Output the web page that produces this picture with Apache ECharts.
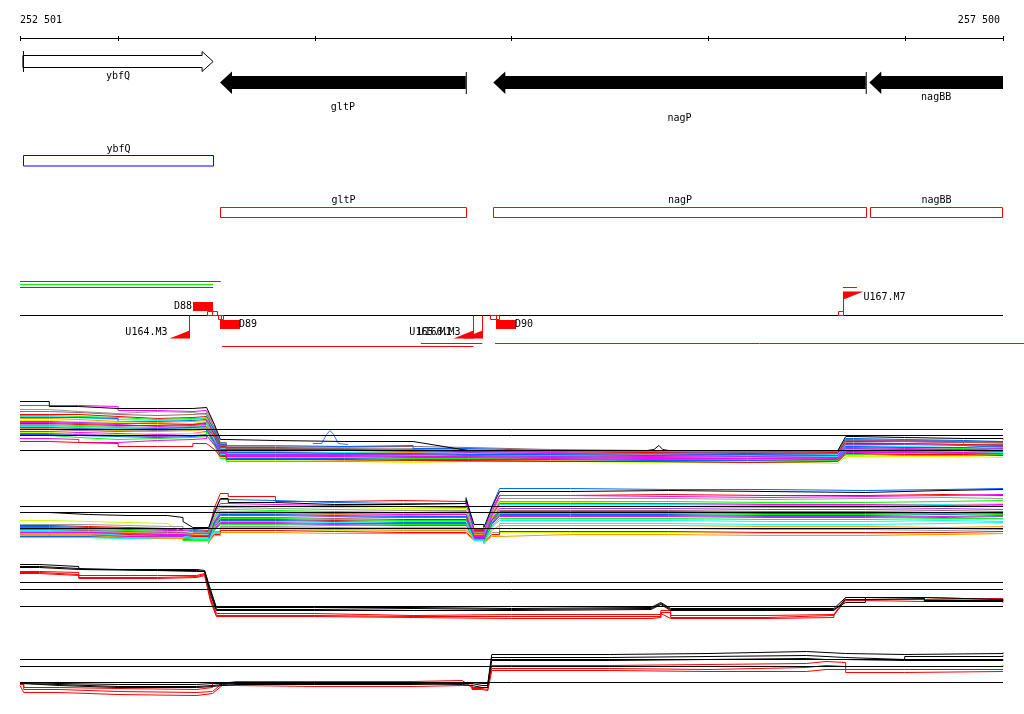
<!DOCTYPE html>
<html><head><meta charset="utf-8">
<script src="https://cdn.jsdelivr.net/npm/echarts@6/dist/echarts.min.js"></script>
<style>html,body{margin:0;padding:0;background:#fff}#c{width:1024px;height:714px}</style>
</head><body><div id="c"></div>
<script>
// ---------------- DATA ----------------
const X_MIN = 252501, X_MAX = 257500;
const rulerTicks = [252501, 253000, 254000, 255000, 256000, 257000, 257500];
const rulerLabels = ['252 501', '257 500'];

const geneNames = ['ybfQ', 'gltP', 'nagP', 'nagBB'];
const geneStart = [252516, 253518, 254908, 256820];
const geneEnd = [253483, 254768, 256802, 257500];
const geneStrand = [1, -1, -1, -1];

const annoNames = ['ybfQ', 'gltP', 'nagP', 'nagBB'];
const annoStart = [252516, 253518, 254908, 256822];
const annoEnd = [253483, 254768, 256802, 257495];
const annoColors = ['#0000ff', '#ff0000', '#ff0000', '#ff0000'];

const segStart = [252501, 252501, 252501, 256686, 253528, 254540, 254917];
const segEnd = [253522, 253483, 253483, 256757, 254806, 254852, 257607];
const segColors = ['#ff0000', '#00ff00', '#ff0000', '#ff0000', '#ff0000', '#ff0000', '#ff0000'];

const probeNames = ['D88', 'D89', 'D90'];
const probeStart = [253382, 253518, 254922];
const probeEnd = [253481, 253620, 255024];
const probeSide = [1, -1, -1];

const boxStart = [253453, 253479, 253509, 253522, 254891, 254922, 256663];
const boxEnd = [253479, 253501, 253522, 253532, 254922, 254937, 256686];
const boxSide = [1, 1, -1, -1, -1, -1, 1];

const promNames = ['U164.M3', 'U165.M1', 'U166.M3', 'U167.M7'];
const promPos = [253359, 254806, 254852, 256686];
const promStrand = [-1, -1, -1, 1];

// panel 1 profiles
const p1X = [252501, 252650, 252800, 253000, 253200, 253380, 253450, 253490, 253520, 253550, 253800, 254150, 254500, 254780, 255200, 255700, 256200, 256660, 256700, 256740, 257000, 257300, 257500];
const p1Values = [
  [13.6,12.6,12.2,12.2,12.2,12.4,12.8,9.0,6.0,5.8,5.6,5.6,5.4,3.8,3.8,3.8,3.8,4.0,6.6,6.4,6.2,6.2,6.0],
  [12.8,12.8,12.6,11.8,11.6,11.8,12.2,8.8,5.0,4.2,4.0,3.8,3.6,3.4,3.2,3.4,3.0,3.2,5.8,5.8,5.6,5.4,5.4],
  [12.0,11.6,11.2,11.6,11.4,11.0,11.8,8.4,5.2,4.6,4.4,4.2,4.0,3.6,3.4,3.6,3.4,3.6,5.4,5.2,5.0,5.2,5.2],
  [11.6,11.4,11.0,10.8,11.0,11.2,11.4,8.2,5.4,4.8,4.6,4.6,4.4,4.0,3.8,3.6,3.6,3.8,6.0,5.8,5.6,5.0,5.0],
  [11.0,11.0,10.6,10.2,10.4,10.6,11.0,7.6,4.4,3.4,3.2,3.0,3.2,3.2,3.0,2.8,2.8,3.0,5.2,5.2,5.0,4.8,4.8],
  [10.8,10.6,10.4,10.0,10.2,10.2,10.8,7.4,4.0,3.0,3.0,3.2,2.8,2.6,2.4,2.2,2.4,2.6,4.6,4.4,4.2,4.4,4.4],
  [10.6,10.4,10.0,9.8,10.0,10.4,10.6,7.2,4.2,3.6,3.4,3.4,3.2,3.0,2.8,3.2,3.0,3.2,4.8,4.6,4.4,4.6,4.6],
  [10.4,10.4,10.2,9.6,9.8,10.0,10.6,7.8,5.0,4.4,4.6,4.8,4.2,3.8,3.4,3.4,3.6,3.8,6.2,6.0,5.8,5.6,5.6],
  [10.2,10.0,9.6,9.4,9.6,9.8,10.4,7.0,4.0,3.2,3.2,3.4,3.0,2.8,2.6,2.8,2.6,2.8,4.0,4.0,3.8,4.2,4.2],
  [9.8,9.6,9.4,9.0,9.2,9.6,10.2,6.6,3.0,2.2,2.2,2.4,2.2,2.0,1.8,1.6,2.0,2.2,3.2,3.0,3.0,2.8,2.8],
  [9.6,9.4,9.2,9.2,9.0,9.4,10.0,7.2,4.4,3.8,3.8,3.6,3.4,3.2,3.0,3.0,3.2,3.4,5.0,5.0,4.8,4.6,4.6],
  [9.4,9.2,9.0,8.6,8.8,9.0,9.8,6.8,3.6,2.8,2.8,2.6,2.6,2.4,2.6,2.4,2.2,2.4,4.4,4.2,4.0,3.8,3.8],
  [9.2,9.0,8.8,8.8,9.0,9.2,9.6,7.0,4.6,4.0,4.0,3.8,3.6,3.6,3.4,3.2,3.4,3.6,5.6,5.6,5.4,5.6,5.6],
  [9.0,8.8,8.6,8.4,8.6,8.8,9.6,6.4,3.6,3.0,2.8,2.8,3.0,2.8,3.0,2.6,2.8,3.0,4.2,4.4,4.4,4.0,4.0],
  [8.8,8.6,8.4,8.2,8.4,8.6,9.4,6.2,3.2,2.6,2.4,2.2,2.2,2.2,2.0,2.0,1.8,2.0,3.6,3.4,3.4,3.6,3.6],
  [8.6,8.4,8.2,8.0,8.2,8.4,9.2,6.0,3.0,2.4,2.4,2.6,2.6,2.4,2.2,2.4,2.6,2.8,3.8,3.6,3.6,3.4,3.4],
  [8.4,8.2,8.0,8.2,8.4,8.6,9.0,6.4,4.0,3.4,3.2,3.2,3.0,3.0,2.8,3.0,2.8,3.0,4.6,4.4,4.4,4.8,4.8],
  [8.2,8.0,7.8,7.6,7.8,8.0,8.8,5.6,2.6,2.0,1.8,1.8,1.8,1.8,1.6,1.8,1.6,1.8,3.0,3.2,3.2,3.0,3.0],
  [8.0,7.8,7.6,7.8,8.0,8.2,8.6,6.6,4.8,4.2,4.2,4.0,3.8,3.6,3.6,3.4,3.6,3.8,5.8,5.6,5.4,5.4,5.4],
  [7.6,7.4,7.2,7.0,7.2,7.6,8.4,5.4,3.2,2.6,2.6,2.4,2.4,2.2,2.0,2.2,2.0,2.2,3.4,3.4,3.2,3.2,3.2],
  [7.4,7.2,7.0,7.2,7.2,7.4,8.2,5.0,2.4,1.8,1.6,1.4,1.6,1.6,1.4,1.6,1.2,1.4,2.6,2.6,2.6,2.4,2.4],
  [7.2,7.0,6.8,6.6,6.8,7.0,8.0,5.6,3.6,3.0,3.0,3.0,2.8,2.6,2.4,2.6,2.4,2.6,4.2,4.0,4.0,4.2,4.2],
  [7.0,6.8,6.6,6.4,6.6,6.8,7.8,5.2,2.8,2.2,2.2,2.0,2.0,2.0,1.8,1.8,2.0,2.2,3.6,3.8,3.8,3.6,3.6],
  [6.8,6.4,6.0,6.2,6.4,6.6,7.6,4.8,2.2,1.6,1.6,1.8,1.6,1.6,1.6,1.4,1.6,1.8,3.0,2.8,2.8,3.0,3.0],
  [6.2,6.0,5.4,5.8,6.0,6.2,6.8,4.8,3.4,2.8,2.8,2.6,2.6,2.4,2.2,2.2,2.4,2.6,3.8,3.6,3.4,3.6,3.6],
  [5.6,5.4,5.2,4.6,4.6,5.2,5.6,4.0,2.6,2.0,2.0,1.8,1.8,1.6,1.6,1.4,1.6,1.8,3.2,3.0,3.0,2.8,2.8]
];
const p1BumpAX = [253990, 254035, 254060, 254078, 254096, 254120, 254170];
const p1BumpAY = [5.2, 5.2, 7.0, 7.8, 7.0, 5.2, 5.0];
const p1BumpBX = [255690, 255725, 255750, 255770, 255800];
const p1BumpBY = [3.8, 4.0, 4.8, 4.0, 3.8];
const p1Refs = [8.0, 6.8, 3.8];

// panel 2 profiles
const p2X = [252501, 252650, 252850, 253050, 253250, 253330, 253380, 253460, 253490, 253520, 253560, 253800, 254100, 254450, 254770, 254810, 254860, 254900, 254940, 255300, 255800, 256300, 256800, 257200, 257500];
const p2Values = [
  [7.0,6.6,6.4,6.4,6.0,5.2,4.0,4.0,7.0,9.8,9.0,8.6,8.6,8.8,9.6,4.6,4.0,8.0,11.2,11.4,11.2,11.0,11.4,11.6,11.6],
  [4.4,4.2,4.0,3.8,3.8,3.6,3.4,3.2,8.0,10.8,10.2,9.2,9.4,9.2,10.0,3.4,2.8,7.0,10.4,10.6,10.4,10.4,10.6,10.4,10.4],
  [4.2,4.0,3.8,3.6,3.6,3.4,3.2,3.0,7.4,9.6,9.4,9.0,8.8,8.8,9.8,3.6,3.0,8.2,11.8,11.6,11.6,11.4,11.6,11.8,11.8],
  [5.4,5.2,5.0,4.8,4.6,3.0,1.6,1.6,6.0,8.4,8.2,8.0,7.8,7.8,8.2,2.8,2.2,6.4,9.0,8.8,8.8,8.6,8.6,8.8,8.8],
  [4.0,3.8,3.6,3.4,3.4,3.2,3.0,2.8,6.8,8.8,8.6,8.4,8.2,8.0,8.8,3.2,2.6,7.6,10.4,10.2,10.0,10.2,10.4,10.6,10.6],
  [4.6,4.6,4.4,4.2,4.2,3.6,3.0,2.6,6.2,8.0,7.8,7.6,7.4,7.4,7.6,3.0,2.4,7.0,9.8,9.8,9.6,9.8,10.0,9.8,9.8],
  [3.6,3.6,3.4,3.2,3.0,2.8,2.8,2.4,5.8,7.6,7.4,7.2,7.0,7.2,7.4,2.6,2.0,6.6,9.2,9.2,9.0,9.0,9.2,9.4,9.4],
  [3.4,3.4,3.2,3.0,2.8,2.8,2.6,2.2,5.4,7.2,7.2,7.0,6.8,6.8,7.0,2.4,1.8,6.2,8.6,8.6,8.4,8.4,8.6,8.2,8.2],
  [3.2,3.2,3.0,2.8,2.8,2.6,2.4,2.0,5.2,6.8,6.8,6.6,6.4,6.6,6.8,2.6,2.0,6.0,8.2,8.2,8.0,8.0,8.2,8.4,8.4],
  [3.0,3.0,2.8,2.6,2.6,2.4,2.4,2.2,4.8,6.4,6.4,6.2,6.0,6.2,6.4,2.2,1.6,5.6,7.8,7.8,7.6,7.6,7.8,7.6,7.6],
  [3.6,3.4,3.2,3.0,3.0,2.8,2.8,2.6,4.6,6.0,6.0,5.8,6.0,6.0,6.2,2.8,2.2,5.4,7.4,7.4,7.2,7.2,7.4,7.2,7.2],
  [2.8,2.8,2.6,2.4,2.4,2.2,2.2,1.8,4.2,5.6,5.6,5.4,5.6,5.6,5.8,2.0,1.4,5.0,7.0,7.0,6.8,6.8,7.0,7.0,7.0],
  [2.6,2.6,2.4,2.2,2.2,2.0,2.0,1.8,4.0,5.4,5.4,5.2,5.0,5.0,5.4,2.2,1.6,4.8,6.6,6.6,6.4,6.4,6.6,6.8,6.8],
  [3.0,3.0,2.8,2.6,2.6,2.4,2.4,2.0,3.8,5.0,5.0,4.8,4.8,4.8,5.0,2.4,1.8,4.6,6.2,6.2,6.0,6.0,6.2,6.4,6.4],
  [2.4,2.4,2.2,2.0,2.0,1.8,1.8,1.4,3.4,4.6,4.6,4.4,4.6,4.6,4.8,1.8,1.2,4.2,5.8,5.8,5.6,5.6,5.8,5.8,5.8],
  [2.4,2.2,2.4,2.2,2.2,2.0,2.0,1.6,3.2,4.2,4.2,4.0,3.8,3.8,4.0,2.0,1.4,3.0,3.8,3.8,3.6,3.6,3.4,3.6,3.6],
  [2.8,2.8,2.4,2.2,2.2,2.0,2.0,1.8,3.0,4.0,4.0,3.8,4.0,4.0,4.2,2.2,1.6,4.0,5.4,5.4,5.2,5.2,5.4,5.2,5.2],
  [2.2,2.0,2.2,2.0,2.0,1.6,1.4,1.2,2.8,3.6,3.6,3.4,3.6,3.6,3.8,1.6,1.0,2.4,3.0,3.0,2.8,2.8,2.6,2.8,2.8],
  [2.6,2.6,2.2,2.0,2.0,1.8,1.8,1.6,2.8,3.8,3.8,3.6,3.4,3.4,3.6,1.8,1.2,3.4,4.4,4.4,4.2,4.2,4.0,4.2,4.2],
  [2.2,2.2,2.0,2.2,2.2,1.6,1.6,1.4,3.6,4.8,4.8,4.6,4.4,4.4,4.6,1.8,1.2,4.6,6.4,6.4,6.2,6.2,6.0,6.2,6.2],
  [2.4,2.4,2.2,2.0,2.0,1.8,1.8,1.2,2.6,3.4,3.4,3.2,3.0,3.0,3.2,1.6,1.0,2.6,3.2,3.2,3.0,3.0,3.0,3.2,3.2],
  [2.0,2.0,2.2,2.4,2.4,1.6,1.6,1.4,5.2,7.0,7.0,6.8,6.6,6.6,6.8,2.2,1.6,6.4,8.8,8.8,8.6,8.6,8.4,8.6,8.6],
  [2.2,2.2,2.0,1.8,1.8,1.6,1.6,1.2,5.0,6.6,6.6,6.4,6.2,6.2,6.4,2.0,1.4,5.4,7.2,7.2,7.0,7.0,6.8,7.0,7.0],
  [2.0,2.0,1.8,2.0,2.0,1.4,1.4,0.8,4.4,5.8,5.8,5.6,5.4,5.4,5.6,1.6,1.0,5.0,6.8,6.8,6.6,6.6,6.8,6.6,6.6],
  [2.4,2.4,2.0,1.8,1.8,1.6,1.6,1.0,2.4,3.0,3.0,2.8,2.8,2.8,3.0,1.4,0.8,2.2,2.6,2.6,2.4,2.4,2.6,2.8,2.8],
  [2.0,2.0,1.8,2.0,2.0,1.8,1.8,1.2,4.0,5.2,5.2,5.0,5.2,5.2,5.4,1.4,0.8,3.8,4.8,4.8,4.6,4.6,4.8,5.0,5.0]
];
const p2Refs = [8.2, 7.0, 3.8];

// panel 3 profiles
const p3X = [252501, 252600, 252800, 253200, 253400, 253440, 253470, 253500, 254000, 254500, 255000, 255710, 255760, 255810, 256300, 256640, 256700, 256800, 257100, 257500];
const p3Values = [
  [12.0,11.6,11.0,11.0,10.8,10.6,7.0,3.4,3.4,3.2,3.4,3.2,4.4,3.2,3.2,3.4,5.4,5.4,5.0,4.8],
  [11.6,11.2,10.8,10.6,10.6,10.2,6.0,2.8,2.8,2.8,3.0,2.8,4.0,2.8,2.8,3.0,5.0,5.2,4.6,4.4],
  [11.4,11.0,10.8,10.8,10.6,10.4,6.6,3.0,3.2,3.0,3.2,3.0,4.2,3.0,3.0,3.2,4.4,5.4,4.8,5.0],
  [10.6,10.4,9.8,9.8,10.2,10.0,5.4,2.2,1.8,2.0,2.0,2.0,2.8,1.8,2.0,2.2,5.4,5.4,5.0,5.0],
  [10.4,10.0,9.4,9.6,10.0,9.6,5.0,1.8,1.6,1.6,1.6,1.6,2.4,1.4,1.8,2.2,5.0,5.0,5.2,5.2],
  [10.2,9.8,9.2,9.4,9.8,9.4,4.6,1.6,1.4,1.2,1.2,1.4,2.2,1.2,1.4,2.0,4.8,4.6,4.8,4.8]
];
const p3Refs = [8.4, 7.0, 3.6];

// panel 4 profiles
const p4X = [252501, 252520, 252700, 253000, 253400, 253480, 253530, 253600, 254000, 254500, 254750, 254800, 254850, 254880, 254900, 255500, 256000, 256500, 256600, 256700, 257000, 257500];
const p4Values = [
  [3.4,3.2,3.0,3.0,3.2,3.2,3.4,3.4,3.4,3.4,3.4,3.2,3.2,3.4,9.0,9.2,9.6,9.4,9.2,9.0,9.2,9.4],
  [3.2,3.0,2.6,2.6,2.8,3.0,3.2,3.2,3.2,3.0,2.8,2.4,2.4,3.0,8.4,8.6,8.8,8.6,8.4,8.0,8.6,8.8],
  [3.2,2.8,2.4,2.4,2.6,2.8,3.0,3.0,3.0,3.2,3.2,2.8,2.8,3.2,7.8,8.0,8.2,8.0,8.0,7.8,7.8,8.0],
  [3.2,2.4,2.2,2.0,2.4,3.2,3.6,3.6,3.6,3.8,3.6,2.4,2.4,2.8,6.8,7.0,7.2,7.6,7.4,6.6,6.6,6.8],
  [3.0,2.0,1.6,1.4,1.6,2.0,3.2,3.0,3.2,3.2,3.2,2.2,2.0,2.4,6.2,6.0,6.4,6.8,6.6,6.0,6.0,6.0],
  [2.8,1.4,1.0,0.8,1.2,1.6,2.8,2.6,2.6,2.8,2.8,2.0,1.8,2.0,5.8,5.6,5.6,6.0,6.0,5.4,5.6,5.6]
];
const p4Refs = [8.0, 6.6, 3.4];

const K = '#000000', M = '#ff00ff', R = '#ff0000', L = '#00ff00', C = '#00ffff', B = '#0066ff',
      O = '#ff9900', G = '#999999', Br = '#996666', Y = '#ccff00', P = '#9933ff';
const p1Colors = [K, M, G, Br, R, L, C, B, O, Y, P, M, R, G, L, C, B, O, Br, M, Y, P, B, L, M, R];
const p2Colors = [K, R, B, Y, M, G, L, C, O, P, Br, R, B, M, L, G, C, Y, O, P, R, M, B, L, O, C];
const p34Colors = [K, K, K, R, R, R];

// ---------------- LAYOUT ----------------
const FONT = '10px "DejaVu Sans Mono", monospace';
const geneLabelY = [76, 107, 118, 97];
const annoLabelY = [149, 200, 200, 200];
const annoBoxY = [[155.5, 166], [207.5, 217.5], [207.5, 217.5], [207.5, 217.5]];
const segY = [281.5, 284.5, 287.5, 287.5, 346.5, 343.5, 343.5];
const BASE_Y = 315.5;
const STEP_LIMIT = 1.0; // small changes drawn as steps, larger ones as slopes

function xy(api, x, y) { return api.coord([x, y]); }

function toPath(X, v) {
  const pts = [];
  for (let j = 0; j < X.length; j++) {
    pts.push([X[j], v[j]]);
    if (j < X.length - 1 && Math.abs(v[j + 1] - v[j]) <= STEP_LIMIT && v[j + 1] !== v[j]) {
      pts.push([X[j + 1], v[j]]);
    }
  }
  return pts;
}

const series = [];
const ov = { xAxisIndex: 0, yAxisIndex: 0, silent: true, animation: false };

series.push(Object.assign({}, ov, {
  type: 'custom', clip: false, data: [[X_MIN, X_MAX]],
  renderItem(p, api) {
    const a = xy(api, api.value(0), 38.5), b = xy(api, api.value(1), 38.5);
    return { type: 'group', children: [
      { type: 'line', shape: { x1: a[0], y1: a[1], x2: b[0], y2: b[1] }, style: { stroke: '#000', lineWidth: 1 } },
      { type: 'text', x: a[0], y: xy(api, X_MIN, 20)[1], style: { text: rulerLabels[0], font: FONT, fill: '#000', align: 'left', verticalAlign: 'middle' } },
      { type: 'text', x: b[0] - 3, y: xy(api, X_MIN, 20)[1], style: { text: rulerLabels[1], font: FONT, fill: '#000', align: 'right', verticalAlign: 'middle' } }
    ]};
  }
}));
series.push(Object.assign({}, ov, {
  type: 'custom', clip: false, data: rulerTicks.map(t => [t]),
  renderItem(p, api) {
    const a = xy(api, api.value(0), 36), b = xy(api, api.value(0), 41);
    const x = Math.round(a[0]) + 0.5;
    return { type: 'line', shape: { x1: x, y1: a[1], x2: x, y2: b[1] }, style: { stroke: '#000', lineWidth: 1 } };
  }
}));

series.push(Object.assign({}, ov, {
  type: 'custom', clip: true,
  data: geneNames.map((n, i) => [geneStart[i], geneEnd[i], geneStrand[i], i]),
  renderItem(p, api) {
    const s = xy(api, api.value(0), 0)[0], e = xy(api, api.value(1), 0)[0];
    const st = api.value(2), i = api.value(3);
    const Y = v => xy(api, X_MIN, v)[1];
    const kids = [];
    if (st > 0) {
      const h = e - 11;
      kids.push({ type: 'polygon', shape: { points: [[s, Y(55.5)], [h, Y(55.5)], [h, Y(51.5)], [e, Y(61.5)], [h, Y(71.5)], [h, Y(67.5)], [s, Y(67.5)]] }, style: { fill: '#fff', stroke: '#000', lineWidth: 1 } });
      kids.push({ type: 'line', shape: { x1: s + 0.5, y1: Y(51), x2: s + 0.5, y2: Y(72) }, style: { stroke: '#000', lineWidth: 1 } });
    } else {
      const h = s + 12;
      kids.push({ type: 'polygon', shape: { points: [[s, Y(82.5)], [h, Y(71.5)], [h, Y(76)], [e, Y(76)], [e, Y(89)], [h, Y(89)], [h, Y(94)]] }, style: { fill: '#000' } });
      if (api.value(1) < X_MAX) kids.push({ type: 'line', shape: { x1: e + 0.5, y1: Y(72), x2: e + 0.5, y2: Y(94) }, style: { stroke: '#000', lineWidth: 1 } });
    }
    kids.push({ type: 'text', x: (s + e) / 2, y: Y(geneLabelY[i]), style: { text: geneNames[i], font: FONT, fill: '#000', align: 'center', verticalAlign: 'middle' } });
    return { type: 'group', children: kids };
  }
}));

series.push(Object.assign({}, ov, {
  type: 'custom', clip: false,
  data: annoNames.map((n, i) => [annoStart[i], annoEnd[i], i]),
  renderItem(p, api) {
    const i = api.value(2);
    const s = Math.round(xy(api, api.value(0), 0)[0]) + 0.5, e = Math.round(xy(api, api.value(1), 0)[0]) + 0.5;
    const Y = v => xy(api, X_MIN, v)[1];
    const y0 = Y(annoBoxY[i][0]), y1 = Y(annoBoxY[i][1]);
    return { type: 'group', children: [
      { type: 'rect', shape: { x: s, y: y0, width: e - s, height: y1 - y0 }, style: { fill: 'none', stroke: annoColors[i], lineWidth: 1 } },
      { type: 'text', x: (s + e) / 2, y: Y(annoLabelY[i]), style: { text: annoNames[i], font: FONT, fill: '#000', align: 'center', verticalAlign: 'middle' } }
    ]};
  }
}));

series.push(Object.assign({}, ov, {
  type: 'custom', clip: false, data: [[X_MIN, X_MAX]],
  renderItem(p, api) {
    const a = xy(api, api.value(0), BASE_Y), b = xy(api, api.value(1), BASE_Y);
    return { type: 'line', shape: { x1: a[0], y1: a[1], x2: b[0], y2: b[1] }, style: { stroke: '#000', lineWidth: 1 } };
  }
}));

series.push(Object.assign({}, ov, {
  type: 'custom', clip: false,
  data: segStart.map((s, i) => [s, segEnd[i], i]),
  renderItem(p, api) {
    const i = api.value(2);
    const a = xy(api, api.value(0), segY[i]), b = xy(api, api.value(1), segY[i]);
    return { type: 'line', shape: { x1: a[0], y1: a[1], x2: b[0], y2: b[1] }, style: { stroke: segColors[i], lineWidth: 1 } };
  }
}));

series.push(Object.assign({}, ov, {
  type: 'custom', clip: false,
  data: boxStart.map((s, i) => [s, boxEnd[i], boxSide[i]]),
  renderItem(p, api) {
    const s = Math.round(xy(api, api.value(0), 0)[0]) + 0.5, e = Math.round(xy(api, api.value(1), 0)[0]) + 0.5;
    const side = api.value(2);
    const Y = v => xy(api, X_MIN, v)[1];
    const y0 = side > 0 ? Y(311.5) : Y(315.5), y1 = side > 0 ? Y(315.5) : Y(319.5);
    return { type: 'rect', shape: { x: s, y: y0, width: e - s, height: y1 - y0 }, style: { fill: 'none', stroke: '#ff0000', lineWidth: 1 } };
  }
}));

series.push(Object.assign({}, ov, {
  type: 'custom', clip: false,
  data: probeNames.map((n, i) => [probeStart[i], probeEnd[i], probeSide[i], i]),
  renderItem(p, api) {
    const s = Math.round(xy(api, api.value(0), 0)[0]), e = Math.round(xy(api, api.value(1), 0)[0]);
    const side = api.value(2), i = api.value(3);
    const Y = v => xy(api, X_MIN, v)[1];
    const y0 = side > 0 ? Y(302) : Y(320), y1 = side > 0 ? Y(311) : Y(329);
    const kids = [{ type: 'rect', shape: { x: s, y: y0, width: e - s, height: y1 - y0 }, style: { fill: '#ff0000' } }];
    if (side > 0) kids.push({ type: 'text', x: s - 1, y: Y(306.5), style: { text: probeNames[i], font: FONT, fill: '#000', align: 'right', verticalAlign: 'middle' } });
    else kids.push({ type: 'text', x: e - 1, y: Y(324), style: { text: probeNames[i], font: FONT, fill: '#000', align: 'left', verticalAlign: 'middle' } });
    return { type: 'group', children: kids };
  }
}));

series.push(Object.assign({}, ov, {
  type: 'custom', clip: false,
  data: promNames.map((n, i) => [promPos[i], promStrand[i], i]),
  renderItem(p, api) {
    const x = Math.round(xy(api, api.value(0), 0)[0]) + 0.5;
    const st = api.value(1), i = api.value(2);
    const Y = v => xy(api, X_MIN, v)[1];
    const kids = [];
    if (st < 0) {
      kids.push({ type: 'line', shape: { x1: x, y1: Y(315.5), x2: x, y2: Y(338.5) }, style: { stroke: '#ff0000', lineWidth: 1 } });
      kids.push({ type: 'polygon', shape: { points: [[x, Y(330.5)], [x, Y(338.5)], [x - 20, Y(338.5)]] }, style: { fill: '#ff0000' } });
      kids.push({ type: 'text', x: x - 22, y: Y(332.5), style: { text: promNames[i], font: FONT, fill: '#000', align: 'right', verticalAlign: 'middle' } });
    } else {
      kids.push({ type: 'line', shape: { x1: x, y1: Y(315.5), x2: x, y2: Y(291.5) }, style: { stroke: '#ff0000', lineWidth: 1 } });
      kids.push({ type: 'polygon', shape: { points: [[x, Y(291.5)], [x + 20, Y(291.5)], [x, Y(299.5)]] }, style: { fill: '#ff0000' } });
      kids.push({ type: 'text', x: x + 20, y: Y(297.5), style: { text: promNames[i], font: FONT, fill: '#000', align: 'left', verticalAlign: 'middle' } });
    }
    return { type: 'group', children: kids };
  }
}));

function addPanel(gi, X, vals, colors, refs) {
  vals.forEach((v, k) => {
    series.push({
      type: 'line', xAxisIndex: gi, yAxisIndex: gi, silent: true, animation: false,
      showSymbol: false, symbol: 'none', z: colors[k] === K ? 4 : 2,
      lineStyle: { color: colors[k], width: 1 },
      data: toPath(X, v)
    });
  });
  refs.forEach(r => {
    series.push({
      type: 'line', xAxisIndex: gi, yAxisIndex: gi, silent: true, animation: false,
      showSymbol: false, symbol: 'none', z: 5,
      lineStyle: { color: '#000', width: 1 },
      data: [[X_MIN, r], [X_MAX, r]]
    });
  });
}
addPanel(1, p1X, p1Values, p1Colors, p1Refs);
series.push({ type: 'line', xAxisIndex: 1, yAxisIndex: 1, silent: true, animation: false, symbol: 'none', z: 3,
  lineStyle: { color: '#3377ff', width: 1 }, data: p1BumpAX.map((x, j) => [x, p1BumpAY[j]]) });
series.push({ type: 'line', xAxisIndex: 1, yAxisIndex: 1, silent: true, animation: false, symbol: 'none', z: 3,
  lineStyle: { color: '#000', width: 1 }, data: p1BumpBX.map((x, j) => [x, p1BumpBY[j]]) });
addPanel(2, p2X, p2Values, p2Colors, p2Refs);
addPanel(3, p3X, p3Values, p34Colors, p3Refs);
addPanel(4, p4X, p4Values, p34Colors, p4Refs);

const grids = [
  { left: 20, right: 21, top: 0, height: 714 },
  { left: 20, right: 21, top: 389.5, height: 80 },
  { left: 20, right: 21, top: 477.5, height: 70 },
  { left: 20, right: 21, top: 554.5, height: 70 },
  { left: 20, right: 21, top: 644.5, height: 55 }
];
const yMax = [714, 16, 14, 14, 11];

const chart = echarts.init(document.getElementById('c'), null, { renderer: 'canvas' });
chart.setOption({
  backgroundColor: '#fff',
  animation: false,
  grid: grids,
  xAxis: grids.map((g, i) => ({ type: 'value', gridIndex: i, min: X_MIN, max: X_MAX, show: false })),
  yAxis: grids.map((g, i) => ({ type: 'value', gridIndex: i, min: 0, max: yMax[i], inverse: i === 0, show: false })),
  series: series
});
</script>
</body></html>
